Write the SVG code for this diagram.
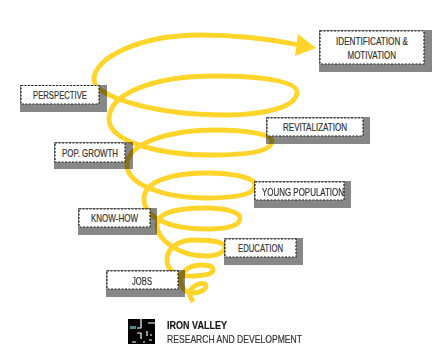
<svg xmlns="http://www.w3.org/2000/svg" width="435" height="353" viewBox="0 0 435 353">
<style>
.s{fill:#878787;mix-blend-mode:multiply}
.b{fill:#fff;stroke:#222;stroke-width:1.2;stroke-dasharray:2 1.5}
text{font-family:"Liberation Sans",sans-serif;font-size:11px;fill:#333;stroke:#333;stroke-width:.2}
.c{fill:none;stroke:#ffd52b;stroke-width:4.8;stroke-linecap:butt}
</style>
<rect width="435" height="353" fill="#fff"/>
<g id="connectors">
<path class="c" d="M300 45C265 38 235 35 200 35C140 35 93 58 94 80C95 97 155 115 225 115C265 115 297 107 297 92C297 82 265 76 215 76C150 76 109 95 109 119C109 142 160 155 210 155C245 155 272 152 272 141C272 134 245 130 215 130C170 130 127 143 127 165C127 185 165 198 205 198C235 198 255 195 255 185C255 178 235 173 205 173C170 173 143 182 144 200C145 218 170 229 205 229C228 229 240 226 240 218C240 212 225 208 205 208C180 208 158 212 157 224C156 240 180 256 205 256C218 256 225 252 225 247C225 242 210 240 195 240C178 240 167 248 167 260C167 272 178 277 195 276C207 275 213 274 213 270C213 266 207 265 202 265C192 265 184 269 181 277C180 286 184 293 192 293C199 293 206 290 206 286C206 283 202 283 199 284C192 286 188 292 190 296C191 298 192 300 193 302"/>
<polygon points="316,48 298,34 295,56" fill="#ffd52b"/>
</g>
<g id="perspective"><rect class="s" x="20" y="85" width="87" height="27"/><rect class="b" x="21" y="85.500" width="78" height="18.500"/><text x="33" y="99" textLength="54" lengthAdjust="spacingAndGlyphs">PERSPECTIVE</text></g>
<g id="pop-growth"><rect class="s" x="54" y="142" width="79" height="27"/><rect class="b" x="55" y="143" width="70" height="19"/><text x="62" y="157" textLength="56" lengthAdjust="spacingAndGlyphs">POP. GROWTH</text></g>
<g id="identification"><rect class="s" x="319" y="30" width="113" height="42"/><rect class="b" x="320" y="31" width="104" height="33"/><text x="336" y="45" textLength="72" lengthAdjust="spacingAndGlyphs">IDENTIFICATION &amp;</text><text x="347.500" y="59" textLength="48.500" lengthAdjust="spacingAndGlyphs">MOTIVATION</text></g>
<g id="revitalization"><rect class="s" x="266" y="117" width="104" height="27"/><rect class="b" x="267" y="118" width="96" height="18"/><text x="283" y="131" textLength="64" lengthAdjust="spacingAndGlyphs">REVITALIZATION</text></g>
<g id="young-population"><rect class="s" x="254" y="181" width="97" height="27"/><rect class="b" x="255" y="182" width="89" height="18"/><text x="262" y="196" textLength="82" lengthAdjust="spacingAndGlyphs">YOUNG POPULATION</text></g>
<g id="education"><rect class="s" x="224" y="238" width="79" height="27"/><rect class="b" x="225" y="239" width="71" height="18"/><text x="238" y="252" textLength="45" lengthAdjust="spacingAndGlyphs">EDUCATION</text></g>
<g id="know-how"><rect class="s" x="78" y="208" width="79" height="27"/><rect class="b" x="79" y="209" width="71" height="18"/><text x="91" y="222" textLength="47" lengthAdjust="spacingAndGlyphs">KNOW-HOW</text></g>
<g id="jobs"><rect class="s" x="106" y="270" width="79" height="27"/><rect class="b" x="107" y="271" width="71" height="18"/><text x="132" y="285" textLength="20" lengthAdjust="spacingAndGlyphs">JOBS</text></g>
<g id="logo"><rect x="128" y="319" width="27" height="25" fill="#000"/><rect x="130" y="326" width="6" height="3" fill="#4b8a8a"/>
<path d="M141 319v9h-4M148 323h7M147 331v5M137 333h4v6M150 335h2M132 342h4M149 340h3M143 342h2" fill="none" stroke="#fff" stroke-width="1.200"/></g>
<g id="brand"><text x="167" y="329" textLength="60" lengthAdjust="spacingAndGlyphs" style="font-weight:bold;fill:#111">IRON VALLEY</text><text x="167" y="343" textLength="135" lengthAdjust="spacingAndGlyphs">RESEARCH AND DEVELOPMENT</text></g>
</svg>
